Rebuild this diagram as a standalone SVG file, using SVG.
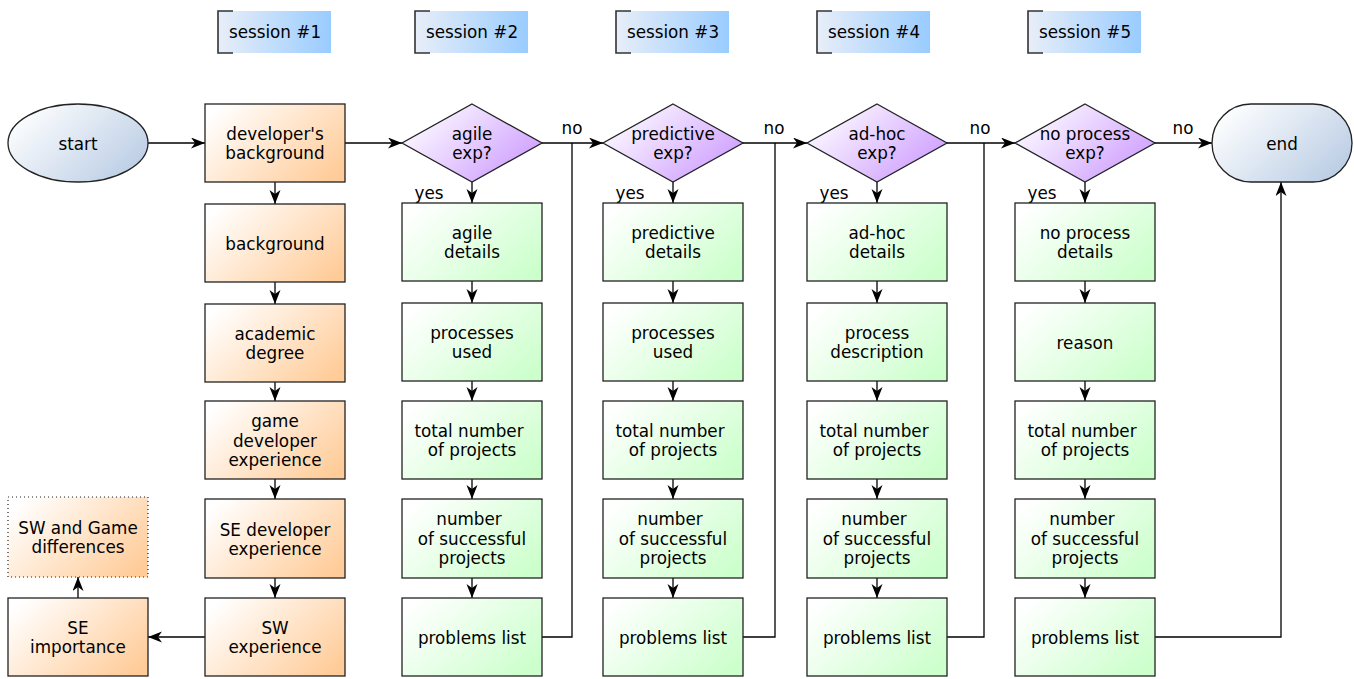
<svg xmlns="http://www.w3.org/2000/svg" width="1354" height="679" viewBox="0 0 1354 679">
<defs>
<linearGradient id="gOr" x1="0" y1="0.2" x2="1" y2="0.8"><stop offset="0" stop-color="#ffffff"/><stop offset="1" stop-color="#ffcc99"/></linearGradient>
<linearGradient id="gGr" x1="0" y1="0.2" x2="1" y2="0.8"><stop offset="0" stop-color="#ffffff"/><stop offset="1" stop-color="#ccffcc"/></linearGradient>
<linearGradient id="gPu" x1="0" y1="0.2" x2="1" y2="0.8"><stop offset="0" stop-color="#ffffff"/><stop offset="1" stop-color="#cc99ff"/></linearGradient>
<linearGradient id="gBl" x1="0" y1="0.2" x2="1" y2="0.8"><stop offset="0" stop-color="#ffffff"/><stop offset="1" stop-color="#b9cce4"/></linearGradient>
<linearGradient id="gSe" x1="0" y1="0" x2="1" y2="0"><stop offset="0" stop-color="#e8eef8"/><stop offset="1" stop-color="#99ccff"/></linearGradient>
<marker id="arr" markerUnits="userSpaceOnUse" markerWidth="16" markerHeight="13" refX="14" refY="5.5" orient="auto"><path d="M0,0 L14,5.5 L0,11 L4,5.5 Z" fill="#000"/></marker>
<style>
text{font-family:"DejaVu Sans","Liberation Sans",sans-serif;font-size:16.8px;fill:#000;text-anchor:middle}
.or{fill:url(#gOr);stroke:#222;stroke-width:1.3}
.gr{fill:url(#gGr);stroke:#222;stroke-width:1.3}
.pu{fill:url(#gPu);stroke:#222;stroke-width:1.3}
.bl{fill:url(#gBl);stroke:#222;stroke-width:1.3}
.dot{fill:url(#gOr);stroke:#222;stroke-width:1.2;stroke-dasharray:1 3}
.se{fill:url(#gSe)}
.br{fill:none;stroke:#333;stroke-width:1.6}
.c{fill:none;stroke:#000;stroke-width:1.3}
.ca{fill:none;stroke:#000;stroke-width:1.3;marker-end:url(#arr)}
</style>
</defs>

<g id="sessions">
<g id="session1"><rect class="se" x="218" y="11" width="113" height="42"/><path class="br" d="M233,11 H218 V53 H233"/><text x="275" y="38">session #1</text></g>
<g id="session2"><rect class="se" x="415" y="11" width="113" height="42"/><path class="br" d="M430,11 H415 V53 H430"/><text x="472" y="38">session #2</text></g>
<g id="session3"><rect class="se" x="616" y="11" width="113" height="42"/><path class="br" d="M631,11 H616 V53 H631"/><text x="673" y="38">session #3</text></g>
<g id="session4"><rect class="se" x="817" y="11" width="113" height="42"/><path class="br" d="M832,11 H817 V53 H832"/><text x="874" y="38">session #4</text></g>
<g id="session5"><rect class="se" x="1028" y="11" width="113" height="42"/><path class="br" d="M1043,11 H1028 V53 H1043"/><text x="1085" y="38">session #5</text></g>
</g>

<g id="connectors">
<path class="ca" d="M148,143 H205"/>
<path class="ca" d="M345,143 H402"/>
<path class="ca" d="M275,182 V204"/>
<path class="ca" d="M275,282 V304"/>
<path class="ca" d="M275,382 V401"/>
<path class="ca" d="M275,479 V499"/>
<path class="ca" d="M275,578 V598"/>
<path class="ca" d="M205,637 H148"/>
<path class="ca" d="M78,598 V577"/>

<path class="ca" d="M542,143 H603"/>
<path class="c" d="M542,637 H572 V143"/>
<path class="ca" d="M742,143 H807"/>
<path class="c" d="M743,637 H775 V143"/>
<path class="ca" d="M946,143 H1015"/>
<path class="c" d="M946,637 H984 V143"/>
<path class="ca" d="M1154,143 H1212"/>
<path class="ca" d="M1154,637 H1281 V182"/>

<path class="ca" d="M472,182 V203"/>
<path class="ca" d="M472,281 V303"/>
<path class="ca" d="M472,381 V401"/>
<path class="ca" d="M472,479 V499"/>
<path class="ca" d="M472,578 V598"/>

<path class="ca" d="M673,182 V203"/>
<path class="ca" d="M673,281 V303"/>
<path class="ca" d="M673,381 V401"/>
<path class="ca" d="M673,479 V499"/>
<path class="ca" d="M673,578 V598"/>

<path class="ca" d="M877,182 V203"/>
<path class="ca" d="M877,281 V303"/>
<path class="ca" d="M877,381 V401"/>
<path class="ca" d="M877,479 V499"/>
<path class="ca" d="M877,578 V598"/>

<path class="ca" d="M1085,182 V203"/>
<path class="ca" d="M1085,281 V303"/>
<path class="ca" d="M1085,381 V401"/>
<path class="ca" d="M1085,479 V499"/>
<path class="ca" d="M1085,578 V598"/>

<text x="572" y="134">no</text>
<text x="774" y="134">no</text>
<text x="980" y="134">no</text>
<text x="1183" y="134">no</text>
<text x="429" y="199">yes</text>
<text x="630" y="199">yes</text>
<text x="834" y="199">yes</text>
<text x="1042" y="199">yes</text>
</g>

<g id="start"><ellipse class="bl" cx="78" cy="143" rx="70" ry="39"/><text x="78" y="149.5">start</text></g>
<g id="end"><rect class="bl" x="1212" y="104" width="140" height="78" rx="39" ry="39"/><text x="1282" y="149.5">end</text></g>

<g id="devBackground"><rect class="or" x="205" y="104" width="140" height="78"/><text x="275" y="139.5">developer's</text><text x="275" y="159">background</text></g>
<g id="background"><rect class="or" x="205" y="204" width="140" height="78"/><text x="275" y="249.5">background</text></g>
<g id="academic"><rect class="or" x="205" y="304" width="140" height="78"/><text x="275" y="339.5">academic</text><text x="275" y="359">degree</text></g>
<g id="gameDev"><rect class="or" x="205" y="401" width="140" height="78"/><text x="275" y="427">game</text><text x="275" y="446.5">developer</text><text x="275" y="466">experience</text></g>
<g id="seDev"><rect class="or" x="205" y="499" width="140" height="79"/><text x="275" y="535.5">SE developer</text><text x="275" y="555">experience</text></g>
<g id="swExp"><rect class="or" x="205" y="598" width="140" height="78"/><text x="275" y="633.5">SW</text><text x="275" y="653">experience</text></g>
<g id="seImportance"><rect class="or" x="8" y="598" width="140" height="78"/><text x="78" y="633.5">SE</text><text x="78" y="653">importance</text></g>
<g id="swGameDiff"><rect class="dot" x="8" y="497" width="140" height="80"/><text x="78" y="533.5">SW and Game</text><text x="78" y="553">differences</text></g>

<g id="agileExp"><polygon class="pu" points="472,104 542,143 472,182 402,143"/><text x="472" y="139.5">agile</text><text x="472" y="159">exp?</text></g>
<g id="agileDetails"><rect class="gr" x="402" y="203" width="140" height="78"/><text x="472" y="238.5">agile</text><text x="472" y="258">details</text></g>
<g id="agileProc"><rect class="gr" x="402" y="303" width="140" height="78"/><text x="472" y="338.5">processes</text><text x="472" y="358">used</text></g>
<g id="agileTotal"><rect class="gr" x="402" y="401" width="140" height="78"/><text x="469" y="436.5">total number</text><text x="472" y="456">of projects</text></g>
<g id="agileSucc"><rect class="gr" x="402" y="499" width="140" height="79"/><text x="469" y="525">number</text><text x="472" y="544.5">of successful</text><text x="472" y="564">projects</text></g>
<g id="agileProb"><rect class="gr" x="402" y="598" width="140" height="78"/><text x="472" y="643.5">problems list</text></g>

<g id="predExp"><polygon class="pu" points="673,104 743,143 673,182 603,143"/><text x="673" y="139.5">predictive</text><text x="673" y="159">exp?</text></g>
<g id="predDetails"><rect class="gr" x="603" y="203" width="140" height="78"/><text x="673" y="238.5">predictive</text><text x="673" y="258">details</text></g>
<g id="predProc"><rect class="gr" x="603" y="303" width="140" height="78"/><text x="673" y="338.5">processes</text><text x="673" y="358">used</text></g>
<g id="predTotal"><rect class="gr" x="603" y="401" width="140" height="78"/><text x="670" y="436.5">total number</text><text x="673" y="456">of projects</text></g>
<g id="predSucc"><rect class="gr" x="603" y="499" width="140" height="79"/><text x="670" y="525">number</text><text x="673" y="544.5">of successful</text><text x="673" y="564">projects</text></g>
<g id="predProb"><rect class="gr" x="603" y="598" width="140" height="78"/><text x="673" y="643.5">problems list</text></g>

<g id="adhocExp"><polygon class="pu" points="877,104 947,143 877,182 807,143"/><text x="877" y="139.5">ad-hoc</text><text x="877" y="159">exp?</text></g>
<g id="adhocDetails"><rect class="gr" x="807" y="203" width="140" height="78"/><text x="877" y="238.5">ad-hoc</text><text x="877" y="258">details</text></g>
<g id="adhocProc"><rect class="gr" x="807" y="303" width="140" height="78"/><text x="877" y="338.5">process</text><text x="877" y="358">description</text></g>
<g id="adhocTotal"><rect class="gr" x="807" y="401" width="140" height="78"/><text x="874" y="436.5">total number</text><text x="877" y="456">of projects</text></g>
<g id="adhocSucc"><rect class="gr" x="807" y="499" width="140" height="79"/><text x="874" y="525">number</text><text x="877" y="544.5">of successful</text><text x="877" y="564">projects</text></g>
<g id="adhocProb"><rect class="gr" x="807" y="598" width="140" height="78"/><text x="877" y="643.5">problems list</text></g>

<g id="noprocExp"><polygon class="pu" points="1085,104 1155,143 1085,182 1015,143"/><text x="1085" y="139.5">no process</text><text x="1085" y="159">exp?</text></g>
<g id="noprocDetails"><rect class="gr" x="1015" y="203" width="140" height="78"/><text x="1085" y="238.5">no process</text><text x="1085" y="258">details</text></g>
<g id="noprocReason"><rect class="gr" x="1015" y="303" width="140" height="78"/><text x="1085" y="348.5">reason</text></g>
<g id="noprocTotal"><rect class="gr" x="1015" y="401" width="140" height="78"/><text x="1082" y="436.5">total number</text><text x="1085" y="456">of projects</text></g>
<g id="noprocSucc"><rect class="gr" x="1015" y="499" width="140" height="79"/><text x="1082" y="525">number</text><text x="1085" y="544.5">of successful</text><text x="1085" y="564">projects</text></g>
<g id="noprocProb"><rect class="gr" x="1015" y="598" width="140" height="78"/><text x="1085" y="643.5">problems list</text></g>
</svg>
